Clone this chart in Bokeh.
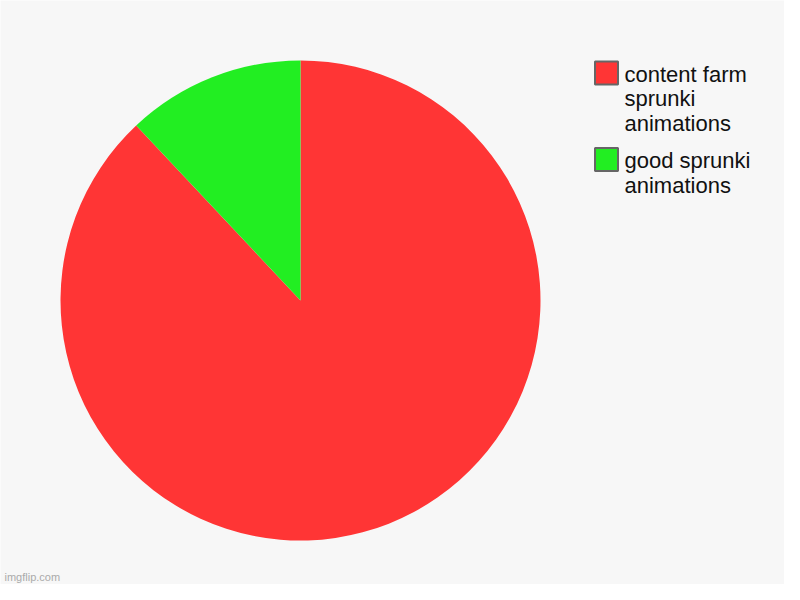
import numpy as np
from bokeh.plotting import figure
from bokeh.models import Range1d, ColumnDataSource
from bokeh.core.properties import value
from bokeh.embed import file_html
from bokeh.resources import INLINE

# Data
categories = ["content farm sprunki animations", "good sprunki animations"]
legend_lines = [["content farm", "sprunki", "animations"], ["good sprunki", "animations"]]
values = [88, 12]
colors = ["#ff3535", "#22ee22"]

BG = "#f7f7f7"
H = 600  # data y = H - screen_y

p = figure(width=784, height=584, output_backend="svg", toolbar_location=None,
           x_range=Range1d(0, 784), y_range=Range1d(H - 584, H), min_border=0)
p.axis.visible = False
p.grid.visible = False
p.outline_line_color = None
p.background_fill_color = BG
p.border_fill_color = BG

# Pie wedges, clockwise from 12 o'clock
vals = np.array(values, dtype=float)
frac = vals / vals.sum()
ends = np.cumsum(frac) * 2 * np.pi
starts = ends - frac * 2 * np.pi
src = ColumnDataSource(dict(cat=categories, start=np.pi / 2 - starts,
                            end=np.pi / 2 - ends, color=colors))
p.wedge(x=300, y=H - 300, radius=240, start_angle="start", end_angle="end",
        direction="clock", fill_color="color", line_color=None, source=src)

# Legend
line_step = 24.5
item_gap = 13
y_top = 61
sq_x, sq_y, txt_x, txt_y = [], [], [], []
txt = []
for i, lines in enumerate(legend_lines):
    sq_x.append(606)
    sq_y.append(H - (y_top + 11.5))
    base = y_top + 12.5
    for j, ln in enumerate(lines):
        txt.append(ln)
        txt_x.append(624)
        txt_y.append(H - (base + j * line_step))
    y_top += len(lines) * line_step + item_gap
p.rect(x=sq_x, y=sq_y, width=23, height=23, fill_color=colors,
       line_color="#666666", line_width=2)
p.text(x=txt_x, y=txt_y, text=txt, text_font=value("Liberation Sans"),
       text_font_size="22px", text_color="#111111", text_baseline="alphabetic",
       text_align="left")

# Watermark
p.text(x=[4], y=[H - 576], text=["imgflip.com"], text_font=value("Liberation Sans"),
       text_font_size="11px", text_color="#aaaaaa", text_baseline="alphabetic")

open("out.html", "w").write(file_html(p, INLINE))
